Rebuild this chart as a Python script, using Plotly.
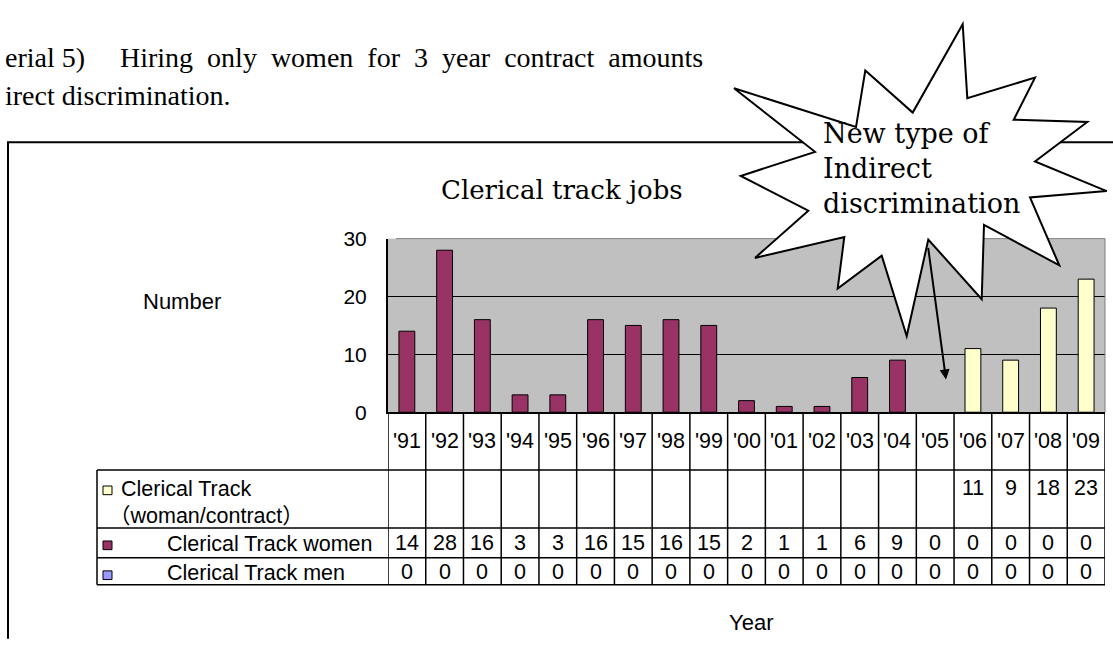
import plotly.graph_objects as go

W, H = 1113, 646

# ---------------- data ----------------
years = ["'91", "'92", "'93", "'94", "'95", "'96", "'97", "'98", "'99", "'00",
         "'01", "'02", "'03", "'04", "'05", "'06", "'07", "'08", "'09"]
contract_women = [None] * 15 + [11, 9, 18, 23]
track_women = [14, 28, 16, 3, 3, 16, 15, 16, 15, 2, 1, 1, 6, 9, 0, 0, 0, 0, 0]
track_men = [0] * 19
y_ticks = [0, 10, 20, 30]

series_names = ["Clerical Track women", "Clerical Track men"]
contract_label = ["Clerical Track", "（woman/contract）"]
colors = {"contract": "#FFFFCC", "women": "#993366", "men": "#9999FF"}

title_text = "Clerical track jobs"
y_title = "Number"
x_title = "Year"
note_line1_a = "erial 5)"
note_line1_b = "Hiring\u00a0 only\u00a0 women\u00a0 for\u00a0 3\u00a0 year\u00a0 contract\u00a0 amounts"
note_line2 = "irect discrimination."
burst_text = "New type of<br>Indirect<br>discrimination"


def X(px):
    return px / W


def Y(py):
    return 1 - py / H


SANS = "Liberation Sans, Arial, sans-serif"
SERIF = "DejaVu Serif, serif"
TIMES = "Liberation Serif, Times New Roman, serif"
CJK = "Liberation Sans, Noto Sans CJK JP, sans-serif"

fig = go.Figure()
bw = 0.42


def edge(vals):
    return [1 if (v is not None and v != 0) else 0 for v in vals]


fig.add_bar(x=years, y=contract_women, width=bw, name="contract",
            marker=dict(color=colors["contract"], line=dict(color="black", width=edge(contract_women))))
fig.add_bar(x=years, y=track_women, width=bw, name=series_names[0],
            marker=dict(color=colors["women"], line=dict(color="black", width=edge(track_women))))
fig.add_bar(x=years, y=track_men, width=bw, name=series_names[1],
            marker=dict(color=colors["men"], line=dict(color="black", width=edge(track_men))))

PX0, PX1, PY0, PY1 = 388, 1105, 235, 415

fig.update_layout(
    width=W, height=H, autosize=False,
    margin=dict(l=0, r=0, t=0, b=0),
    paper_bgcolor="white", plot_bgcolor="#C0C0C0",
    barmode="overlay", showlegend=False,
    xaxis=dict(domain=[X(PX0), X(PX1)], type="category", range=[-0.5, 18.5],
               showticklabels=False, ticks="", showgrid=False, zeroline=False,
               showline=True, linecolor="black", linewidth=2),
    yaxis=dict(domain=[Y(PY1), Y(PY0)], range=[0, 30], tickvals=y_ticks,
               ticks="inside", ticklen=8, tickwidth=1, tickcolor="black",
               showgrid=True, gridcolor="black", gridwidth=1, zeroline=False,
               showline=True, linecolor="black", linewidth=2,
               tickfont=dict(family=SANS, size=21, color="black"),
               ticklabelstandoff=15),
)

shapes = []
# outer chart frame (top and left)
shapes.append(dict(type="path", xref="paper", yref="paper", layer="above",
                   path=f"M {X(8)},{Y(650)} L {X(8)},{Y(135)} L {X(1116)},{Y(135)}",
                   line=dict(color="black", width=2)))
# plot area gray border (top/right)
shapes.append(dict(type="path", xref="paper", yref="paper", layer="above",
                   path=f"M {X(396)},{Y(PY0)} L {X(PX1)},{Y(PY0)} L {X(PX1)},{Y(PY1)}",
                   line=dict(color="#808080", width=1)))

# data table grid
T_TOP, R1, R2, R3, T_BOT = 415, 475, 535, 566, 594
TL = 97
for i in range(len(years) + 1):
    shapes.append(dict(type="line", xref="x", yref="paper", x0=i - 0.5, x1=i - 0.5,
                       y0=Y(T_BOT), y1=Y(T_TOP), line=dict(color="black", width=1.5)))
for yy in (R1, R2, R3, T_BOT):
    shapes.append(dict(type="line", xref="paper", yref="paper", x0=X(TL), x1=X(PX1),
                       y0=Y(yy), y1=Y(yy), line=dict(color="black", width=1.5)))
shapes.append(dict(type="line", xref="paper", yref="paper", x0=X(TL), x1=X(TL),
                   y0=Y(T_BOT), y1=Y(R1), line=dict(color="black", width=1.5)))

# legend swatches
for key, yc in (("contract", 496), ("women", 553), ("men", 584)):
    shapes.append(dict(type="rect", xref="paper", yref="paper",
                       x0=X(103), x1=X(112), y0=Y(yc + 4.5), y1=Y(yc - 4.5),
                       fillcolor=colors[key], line=dict(color="black", width=1)))

# starburst callout
burst = [(962.7, 12.7), (967.3, 89.3), (1035, 68), (1013.7, 111.7), (1087.3, 114),
         (1035, 155), (1106.7, 185.7), (1030, 192.3), (1059.3, 262.7), (984, 220.7),
         (981.7, 297.7), (928.3, 236), (906.7, 336), (881.7, 252.7), (837.7, 286.7),
         (844.3, 233.3), (755, 255), (808.3, 206), (740.7, 170), (815, 145),
         (734, 79), (856, 119.3), (865.3, 60.7), (912.7, 104.3)]
path = "M " + " L ".join(f"{X(a)},{Y(b)}" for a, b in burst) + " Z"
shapes.append(dict(type="path", xref="paper", yref="paper", layer="above", path=path,
                   fillcolor="white", line=dict(color="black", width=2)))

ann = []
TS = 21.5
tf = dict(family=SANS, size=TS, color="black")
for i, yr in enumerate(years):
    ann.append(dict(x=yr, y=Y(445), xref="x", yref="paper", text=yr, showarrow=False,
                    font=tf, xanchor="center", yanchor="middle"))
    if contract_women[i] is not None:
        ann.append(dict(x=yr, y=Y(494), xref="x", yref="paper", text=str(contract_women[i]),
                        showarrow=False, font=tf, xanchor="center", yanchor="middle"))
    ann.append(dict(x=yr, y=Y(551), xref="x", yref="paper", text=str(track_women[i]),
                    showarrow=False, font=tf, xanchor="center", yanchor="middle"))
    ann.append(dict(x=yr, y=Y(581), xref="x", yref="paper", text=str(track_men[i]),
                    showarrow=False, font=tf, xanchor="center", yanchor="middle"))

ann.append(dict(x=X(119), y=Y(495), xref="paper", yref="paper", text=contract_label[0],
                showarrow=False, font=tf, xanchor="left", yanchor="middle"))
ann.append(dict(x=X(107), y=Y(523), xref="paper", yref="paper", text=contract_label[1],
                showarrow=False, font=dict(family=CJK, size=TS, color="black"),
                xanchor="left", yanchor="middle"))
ann.append(dict(x=X(165), y=Y(552), xref="paper", yref="paper", text=series_names[0],
                showarrow=False, font=tf, xanchor="left", yanchor="middle"))
ann.append(dict(x=X(165), y=Y(582), xref="paper", yref="paper", text=series_names[1],
                showarrow=False, font=tf, xanchor="left", yanchor="middle"))

# titles
ann.append(dict(x=X(562), y=Y(185), xref="paper", yref="paper", text=title_text,
                showarrow=False, font=dict(family=SERIF, size=26, color="black"),
                xanchor="center", yanchor="middle"))
ann.append(dict(x=X(141), y=Y(300), xref="paper", yref="paper", text=y_title,
                showarrow=False, font=dict(family=SANS, size=22, color="black"),
                xanchor="left", yanchor="middle"))
ann.append(dict(x=X(751), y=Y(633), xref="paper", yref="paper", text=x_title,
                showarrow=False, font=dict(family=SANS, size=22, color="black"),
                xanchor="center", yanchor="middle"))

# document text above the chart
ann.append(dict(x=X(3), y=Y(47), xref="paper", yref="paper", text=note_line1_a,
                showarrow=False, font=dict(family=TIMES, size=28, color="black"),
                xanchor="left", yanchor="middle"))
ann.append(dict(x=X(705), y=Y(47), xref="paper", yref="paper", text=note_line1_b,
                showarrow=False, font=dict(family=TIMES, size=28, color="black"),
                xanchor="right", yanchor="middle"))
ann.append(dict(x=X(3), y=Y(87), xref="paper", yref="paper", text=note_line2,
                showarrow=False, font=dict(family=TIMES, size=28, color="black"),
                xanchor="left", yanchor="middle"))

# starburst text
ann.append(dict(x=X(821), y=Y(162), xref="paper", yref="paper", text=burst_text,
                showarrow=False, font=dict(family=SERIF, size=27, color="black"),
                xanchor="left", yanchor="middle", align="left"))

# arrow from callout into the chart
ann.append(dict(x=X(946), y=Y(381), xref="paper", yref="paper", text="",
                showarrow=True, arrowhead=2, arrowsize=1, arrowwidth=2,
                arrowcolor="black", ax=-18, ay=-133))

fig.update_layout(shapes=shapes, annotations=ann)
fig.write_html(
    "out.html",
    config={"displayModeBar": False},
    post_script="document.body.style.margin='0';document.body.style.padding='0';"
                "document.documentElement.style.overflow='hidden';",
)
